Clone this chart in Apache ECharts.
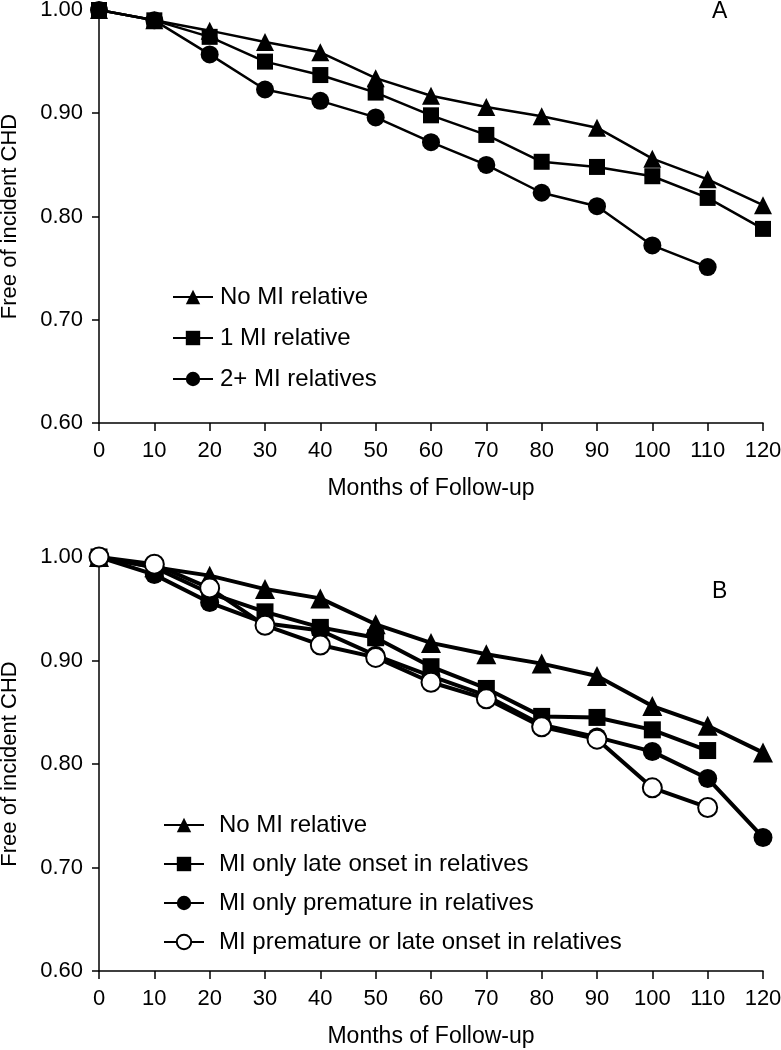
<!DOCTYPE html>
<html>
<head>
<meta charset="utf-8">
<script src="https://cdn.jsdelivr.net/npm/echarts@6/dist/echarts.min.js"></script>
<style>html,body{margin:0;padding:0;background:#fff}#c{width:781px;height:1050px}</style>
</head>
<body>
<div id="c"></div>
<script>
const months = [0, 10, 20, 30, 40, 50, 60, 70, 80, 90, 100, 110, 120];
const yTicks = [0.60, 0.70, 0.80, 0.90, 1.00];

// Panel A
const aNoMI = [1.00, 0.990, 0.980, 0.969, 0.959, 0.934, 0.917, 0.906, 0.897, 0.886, 0.856, 0.836, 0.811];
const aOneMI = [1.00, 0.990, 0.974, 0.950, 0.937, 0.920, 0.898, 0.879, 0.853, 0.848, 0.839, 0.818, 0.788];
const aTwoMI = [1.00, 0.990, 0.957, 0.923, 0.912, 0.896, 0.872, 0.850, 0.823, 0.810, 0.772, 0.751];

// Panel B
const bNoMI = [1.00, 0.990, 0.982, 0.969, 0.960, 0.935, 0.917, 0.906, 0.897, 0.885, 0.856, 0.837, 0.811];
const bLate = [1.00, 0.990, 0.965, 0.947, 0.932, 0.922, 0.894, 0.873, 0.846, 0.845, 0.833, 0.813];
const bPremature = [1.00, 0.983, 0.956, 0.936, 0.929, 0.905, 0.885, 0.866, 0.838, 0.826, 0.812, 0.786, 0.729];
const bEither = [1.00, 0.993, 0.970, 0.934, 0.915, 0.903, 0.879, 0.863, 0.836, 0.824, 0.777, 0.758];

const FONT = '"Liberation Sans", Arial, Helvetica, sans-serif';
const pairs = vals => vals.map((v, i) => [months[i], v]);

function xAxis(gi) {
  return {
    type: 'value', gridIndex: gi, min: 0, max: 120, interval: 10,
    name: 'Months of Follow-up', nameLocation: 'middle', nameGap: 54,
    nameTextStyle: { fontFamily: FONT, fontSize: 23, color: '#000' },
    axisLine: { show: true, onZero: false, lineStyle: { color: '#000', width: 1.5 } },
    axisTick: { show: true, inside: false, length: 8, lineStyle: { color: '#000', width: 1.5 } },
    axisLabel: { fontFamily: FONT, fontSize: 22, color: '#000', margin: 17 },
    splitLine: { show: false }
  };
}
function yAxis(gi) {
  return {
    type: 'value', gridIndex: gi, min: 0.6, max: 1.0, interval: 0.1,
    name: 'Free of incident CHD', nameLocation: 'middle', nameGap: 78, nameRotate: 90,
    nameTextStyle: { fontFamily: FONT, fontSize: 22, color: '#000' },
    axisLine: { show: true, onZero: false, lineStyle: { color: '#000', width: 1.5 } },
    axisTick: { show: true, inside: false, length: 7, lineStyle: { color: '#000', width: 1.5 } },
    axisLabel: { fontFamily: FONT, fontSize: 22, color: '#000', margin: 16,
      formatter: v => v.toFixed(2) },
    splitLine: { show: false }
  };
}
function ser(name, gi, vals, symbol, size, lw, fill) {
  return {
    name: name, type: 'line', xAxisIndex: gi, yAxisIndex: gi,
    data: pairs(vals), symbol: symbol, symbolSize: size, showSymbol: true,
    lineStyle: { color: '#000', width: lw },
    itemStyle: { color: fill || '#000', borderColor: '#000', borderWidth: fill ? 2 : 0 },
    emphasis: { disabled: true }, animation: false, z: 2
  };
}

const chart = echarts.init(document.getElementById('c'), null, { renderer: 'canvas' });
chart.setOption({
  backgroundColor: '#fff',
  animation: false,
  grid: [
    { left: 99, width: 664, top: 10, height: 413, containLabel: false, outerBoundsMode: 'none' },
    { left: 99, width: 664, top: 557, height: 414, containLabel: false, outerBoundsMode: 'none' }
  ],
  xAxis: [xAxis(0), xAxis(1)],
  yAxis: [yAxis(0), yAxis(1)],
  legend: [
    {
      orient: 'vertical', left: 172, top: 285, padding: 0, itemWidth: 40, itemHeight: 18, itemGap: 17,
      data: ['No MI relative', '1 MI relative', '2+ MI relatives'],
      textStyle: { fontFamily: FONT, fontSize: 24, lineHeight: 24, color: '#000', padding: [0, 0, 0, 2] },
      selectedMode: false
    },
    {
      orient: 'vertical', left: 163, top: 813, padding: 0, itemWidth: 40, itemHeight: 18, itemGap: 15,
      data: ['B:No MI relative', 'B:MI only late onset in relatives', 'B:MI only premature in relatives', 'B:MI premature or late onset in relatives'],
      formatter: n => n.replace('B:', ''),
      textStyle: { fontFamily: FONT, fontSize: 24, lineHeight: 24, color: '#000', padding: [0, 0, 0, 10] },
      selectedMode: false
    }
  ],
  graphic: [
    { type: 'text', left: 712, top: 0, style: { text: 'A', font: '23px ' + FONT, fill: '#000' } },
    { type: 'text', left: 712, top: 580, style: { text: 'B', font: '23px ' + FONT, fill: '#000' } }
  ],
  series: [
    ser('No MI relative', 0, aNoMI, 'triangle', 18, 2.5),
    ser('1 MI relative', 0, aOneMI, 'rect', 16, 2.5),
    ser('2+ MI relatives', 0, aTwoMI, 'circle', 18, 2.5),
    ser('B:No MI relative', 1, bNoMI, 'triangle', 20, 4),
    ser('B:MI only late onset in relatives', 1, bLate, 'rect', 17, 4),
    ser('B:MI only premature in relatives', 1, bPremature, 'circle', 19, 4),
    ser('B:MI premature or late onset in relatives', 1, bEither, 'circle', 19, 4, '#fff')
  ]
});
</script>
</body>
</html>
